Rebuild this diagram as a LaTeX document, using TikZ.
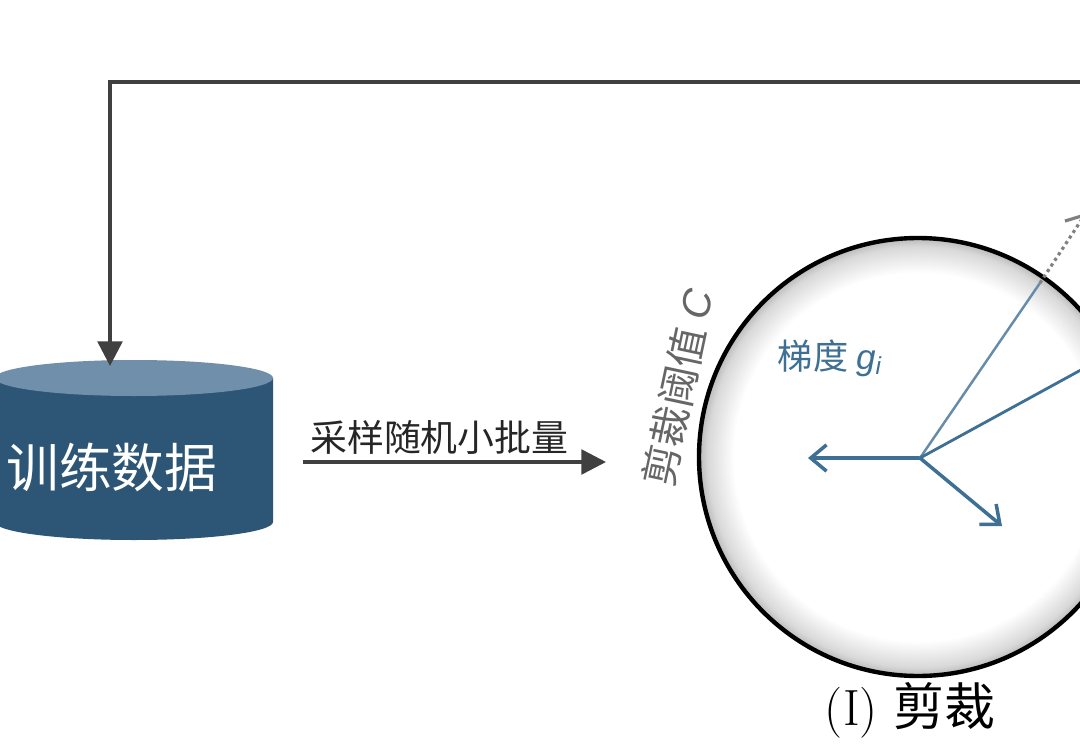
\documentclass[tikz,border=0pt]{standalone}
\usepackage{fontspec}
\newfontfamily\cjk{Noto Sans CJK SC}
\newfontfamily\lsans{Liberation Sans}
\usetikzlibrary{arrows.meta,shapes.geometric}
\definecolor{dbblue}{HTML}{2D5575}
\definecolor{dbtop}{HTML}{6F8FAA}
\definecolor{gradblue}{HTML}{3E6F95}
\pgfdeclareradialshading{ballring}{\pgfpoint{0cm}{0cm}}{color(0bp)=(white); color(21bp)=(white); color(24bp)=(gray!30); color(25bp)=(gray!55)}
\tikzset{
  flow/.style={draw=black!75, line width=2pt, -{Triangle[length=14pt,width=14pt]}},
  grad/.style={draw=gradblue, line width=2pt, -{Straight Barb[length=9pt,width=15pt]}},
  lbl/.style={font=\cjk\fontsize{21}{21}\selectfont, text=black!85}
}
\begin{document}
\begin{tikzpicture}[x=0.02cm,y=-0.02cm]
  \clip (0,0) rectangle (1080,744);
  \fill[white] (0,0) rectangle (1080,744);
  % clipping ball
  \shade[shading=ballring] (918,457) circle (219);
  \draw[line width=2.5pt] (918,457) circle (219);
  % training data cylinder
  \fill[dbblue] (-5,378) -- (-5,522) arc[start angle=180,end angle=0,x radius=139,y radius=18] -- (273,378) -- cycle;
  \fill[dbtop] (134,378) ellipse[x radius=139,y radius=18];
  \node[font=\cjk\fontsize{30}{30}\selectfont, text=white] (data) at (112,467) {训练数据};
  \coordinate (dtop) at (110,366);
  % feedback loop
  \coordinate (loopR) at (1085,82);
  \coordinate (loopL) at (110,82);
  \draw[flow] (loopR) -- (loopL) -- (dtop);
  % sample minibatch
  \coordinate (sA) at (303,462);
  \coordinate (sB) at (606,462);
  \draw[flow] (sA) -- (sB) node[lbl, pos=0.45, above=0pt] (samp) {采样随机小批量};
  \node[font=\cjk\fontsize{23}{23}\selectfont, text=black!60, rotate=78] (thr) at (678,388) {剪裁阈值 {\lsans\itshape C}};
  \node[font=\cjk\fontsize{20}{20}\selectfont, text=gradblue] (glab) at (830,358) {梯度 {\lsans\itshape g\textsubscript{i}}};
  % gradients
  \coordinate (O) at (920,458);
  \coordinate (g1) at (808,458);
  \coordinate (g2) at (1002,526);
  \coordinate (g3e) at (1040,283);
  \coordinate (g3) at (1086,213);
  \coordinate (g4) at (1090,365);
  \draw[grad] (O) -- (g1);
  \draw[grad] (O) -- (g2);
  \draw[draw=gradblue!80, line width=1.4pt] (O) -- (g3e);
  \draw[draw=gray, line width=1.8pt, dotted, -{Straight Barb[length=9pt,width=15pt]}] (g3e) -- (g3);
  \draw[draw=gradblue, line width=1.6pt] (O) -- (g4);
  \node[font=\fontsize{29}{29}\selectfont] (cap) at (910,710) {(I) {\cjk 剪裁}};
\end{tikzpicture}
\end{document}
